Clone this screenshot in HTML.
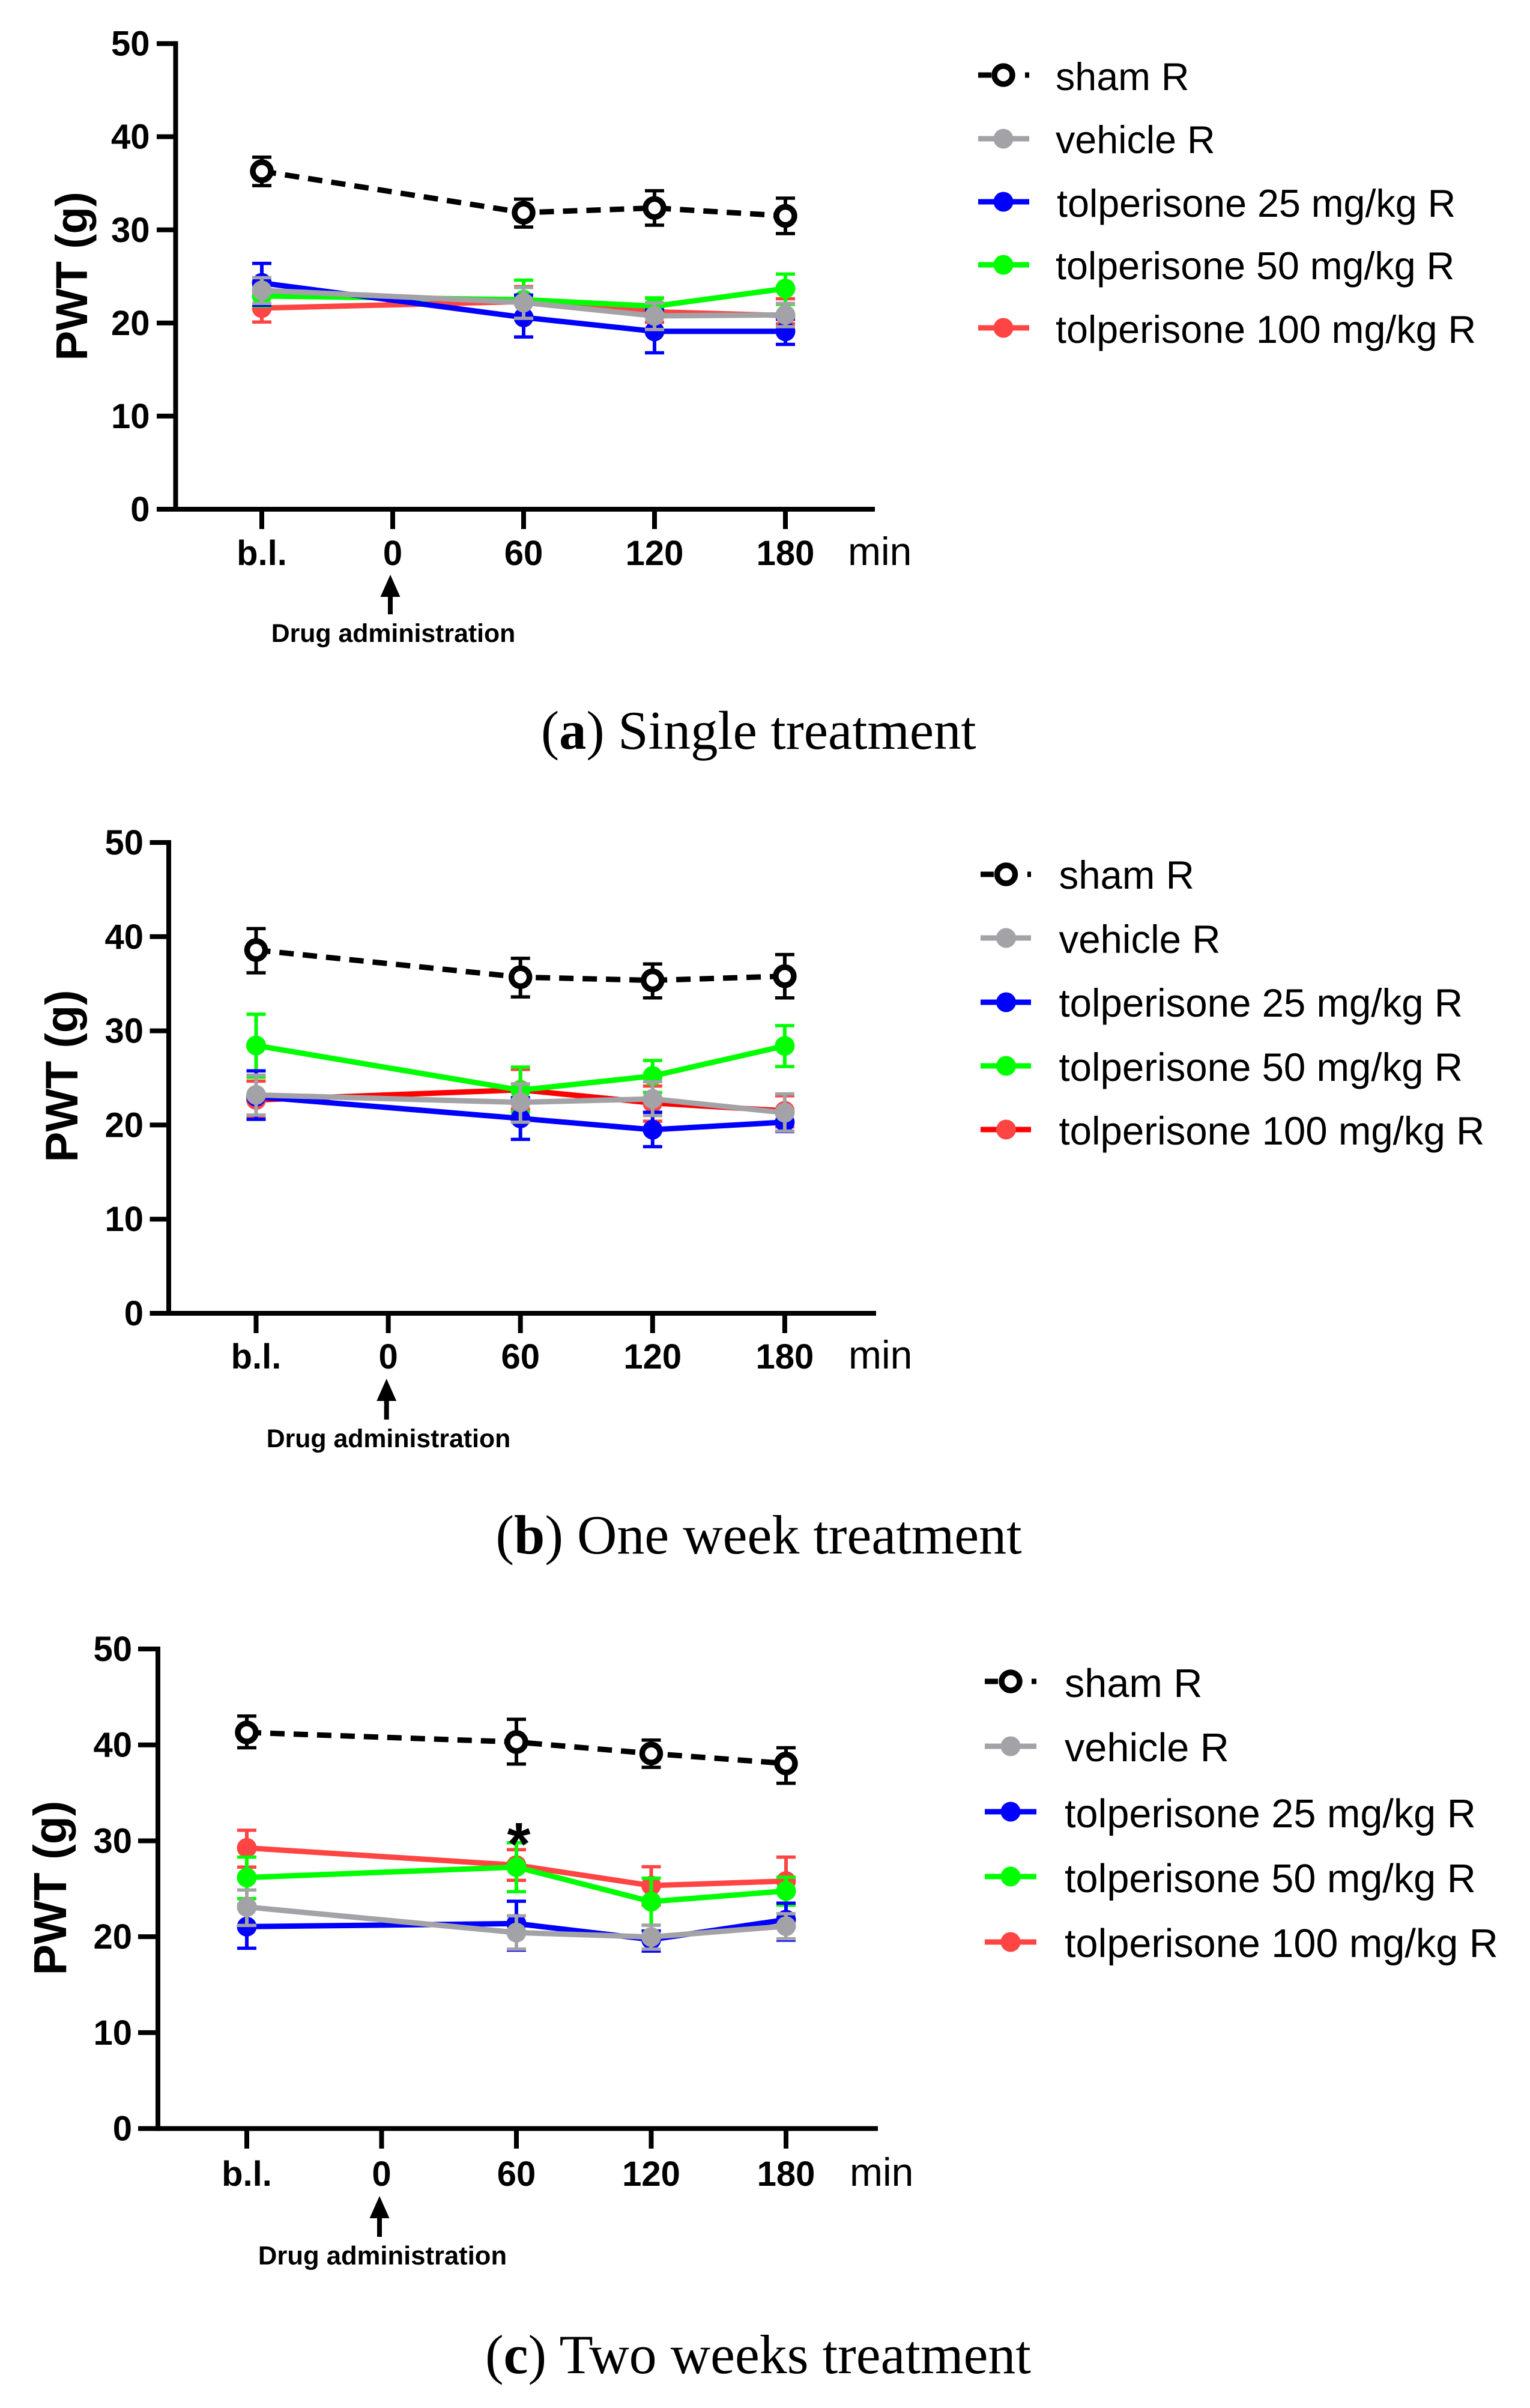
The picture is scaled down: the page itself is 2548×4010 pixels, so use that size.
<!DOCTYPE html>
<html lang="en">
<head>
<meta charset="utf-8">
<title>PWT over time after tolperisone treatment</title>
<style>
html,body{margin:0;padding:0;background:#fff;}
svg{display:block;}
text{fill:#000;font-family:"Liberation Sans",Arial,sans-serif;}
.tick{font-weight:700;font-size:58px;}
.unit{font-size:66px;}
.ylab{font-weight:700;}
.drug{font-weight:700;}
.caption{font-family:"Liberation Serif","Times New Roman",serif;}
.caption tspan.b{font-weight:700;}
</style>
</head>
<body>
<svg id="figure" xmlns="http://www.w3.org/2000/svg" width="2548" height="4010" viewBox="0 0 2548 4010">
<rect x="0" y="0" width="2548" height="4010" fill="#fff"/>

<g id="panel-a">
  <text class="ylab" font-size="74.5" text-anchor="middle" transform="translate(145,460) rotate(-90)">PWT (g)</text>
  <text class="unit" x="1412" y="941">min</text>
  <polygon points="650,957 666.5,994 633.5,994" fill="#000"/>
  <rect x="646" y="990" width="8" height="33" fill="#000"/>
  <text class="drug" font-size="42.8" x="655" y="1069" text-anchor="middle">Drug administration</text>
</g>
<g font-size="64.6">
  <text x="1758" y="150">sham R</text>
  <text x="1758" y="255">vehicle R</text>
  <text x="1760" y="361">tolperisone 25 mg/kg R</text>
  <text x="1758" y="465">tolperisone 50 mg/kg R</text>
  <text x="1758" y="571">tolperisone 100 mg/kg R</text>
</g>
<text class="caption" font-size="90.6" x="901" y="1247">(<tspan class="b">a</tspan>) Single treatment</text>

<g id="panel-b">
  <text class="ylab" font-size="76" text-anchor="middle" transform="translate(129,1792) rotate(-90)">PWT (g)</text>
  <text class="unit" x="1413" y="2279">min</text>
  <polygon points="643.7,2296 660.2,2333 627.2,2333" fill="#000"/>
  <rect x="639.7" y="2329" width="8" height="35" fill="#000"/>
  <text class="drug" font-size="42.8" x="647" y="2410" text-anchor="middle">Drug administration</text>
</g>
<g font-size="65.4">
  <text x="1763.5" y="1480">sham R</text>
  <text x="1763.5" y="1587">vehicle R</text>
  <text x="1763.5" y="1693">tolperisone 25 mg/kg R</text>
  <text x="1763.5" y="1800">tolperisone 50 mg/kg R</text>
  <text x="1763.5" y="1906">tolperisone 100 mg/kg R</text>
</g>
<text class="caption" font-size="92" x="825.5" y="2587">(<tspan class="b">b</tspan>) One week treatment</text>

<g id="panel-c">
  <text class="ylab" font-size="77" text-anchor="middle" transform="translate(110,3144) rotate(-90)">PWT (g)</text>
  <text class="unit" x="1415" y="3640">min</text>
  <polygon points="632,3657 648.5,3694 615.5,3694" fill="#000"/>
  <rect x="628" y="3690" width="8" height="35" fill="#000"/>
  <text class="drug" font-size="43.6" x="637" y="3771" text-anchor="middle">Drug administration</text>
</g>
<g font-size="66.6">
  <text x="1773" y="2826">sham R</text>
  <text x="1773" y="2933">vehicle R</text>
  <text x="1773" y="3043">tolperisone 25 mg/kg R</text>
  <text x="1773" y="3151">tolperisone 50 mg/kg R</text>
  <text x="1773" y="3259">tolperisone 100 mg/kg R</text>
</g>
<text class="caption" font-size="92" x="808" y="3952">(<tspan class="b">c</tspan>) Two weeks treatment</text>
</svg>

<script>
const categories = ['b.l.', '0', '60', '120', '180'];
const yTickValues = [0, 10, 20, 30, 40, 50];

/* Panel a: single treatment */
const aSham = [36.3, null, 31.85, 32.35, 31.5];
const aShamHi = [37.8, null, 33.3, 34.2, 33.4];
const aShamLo = [34.75, null, 30.3, 30.5, 29.6];
const aVehicle = [23.5, null, 22.2, 20.76, 20.87];
const aVehicleHi = [24.87, null, 23.8, 22.15, 22.1];
const aVehicleLo = [22.1, null, 20.5, 19.3, 19.6];
const aT25 = [24.3, null, 20.6, 19.1, 19.1];
const aT25Hi = [26.4, null, 23.0, 21.4, 20.4];
const aT25Lo = [21.9, null, 18.5, 16.8, 17.7];
const aT50 = [22.9, null, 22.5, 21.8, 23.7];
const aT50Hi = [24.05, null, 24.6, 22.7, 25.25];
const aT50Lo = [21.8, null, 20.4, 20.9, 22.0];
const aT100 = [21.6, null, 22.3, 21.2, 20.8];
const aT100Hi = [23.1, null, 23.9, 22.66, 22.6];
const aT100Lo = [20.1, null, 20.7, 20.07, 19.9];

/* Panel b: one week treatment */
const bSham = [38.58, null, 35.7, 35.36, 35.8];
const bShamHi = [40.86, null, 37.7, 37.1, 38.1];
const bShamLo = [36.16, null, 33.6, 33.5, 33.5];
const bVehicle = [23.19, null, 22.4, 22.77, 21.3];
const bVehicleHi = [25.3, null, 24.36, 24.6, 23.3];
const bVehicleLo = [21.05, null, 20.3, 21.0, 19.35];
const bT25 = [23.0, null, 20.7, 19.5, 20.3];
const bT25Hi = [25.75, null, 22.9, 21.35, 21.3];
const bT25Lo = [20.6, null, 18.47, 17.7, 19.3];
const bT50 = [28.44, null, 23.7, 25.2, 28.4];
const bT50Hi = [31.76, null, 26.15, 26.85, 30.55];
const bT50Lo = [25.08, null, 21.4, 23.45, 26.2];
const bT100 = [22.66, null, 23.73, 22.34, 21.5];
const bT100Hi = [24.66, null, 25.9, 24.13, 23.1];
const bT100Lo = [20.76, null, 21.7, 20.4, 19.8];

/* Panel c: two weeks treatment */
const cSham = [41.3, null, 40.3, 39.1, 38.06];
const cShamHi = [43.0, null, 42.67, 40.5, 39.7];
const cShamLo = [39.7, null, 38.0, 37.66, 36.0];
const cVehicle = [23.1, null, 20.43, 19.97, 21.1];
const cVehicleHi = [24.87, null, 22.18, 21.2, 22.4];
const cVehicleLo = [21.18, null, 18.7, 18.7, 19.78];
const cT25 = [21.05, null, 21.37, 19.7, 21.78];
const cT25Hi = [23.3, null, 23.7, 20.6, 23.5];
const cT25Lo = [18.8, null, 18.6, 18.5, 19.64];
const cT50 = [26.17, null, 27.26, 23.66, 24.77];
const cT50Hi = [28.3, null, 29.8, 26.1, 26.2];
const cT50Lo = [23.97, null, 24.7, 21.2, 23.3];
const cT100 = [29.26, null, 27.46, 25.33, 25.8];
const cT100Hi = [31.1, null, 29.07, 27.3, 28.3];
const cT100Lo = [27.26, null, 25.88, 23.3, 23.3];

const NS = 'http://www.w3.org/2000/svg';
const GREY = '#a3a2a6', BLUE = '#0000ff', GREEN = '#00ff00', SOFTRED = '#ff4444';

function svgEl(parent, tag, attrs) {
  const el = document.createElementNS(NS, tag);
  for (const k in attrs) el.setAttribute(k, attrs[k]);
  parent.appendChild(el);
  return el;
}

function drawAxes(group, p, x, y, id) {
  const axisColor = '#000';
  const yAxis = svgEl(group, 'line', {x1: p.axisX, x2: p.axisX, y1: y(50) - 4, y2: y(0) + 4, stroke: axisColor, 'stroke-width': 8});
  
  
  const xAxis = svgEl(group, 'line', {x1: p.axisX, x2: p.axisRight, y1: y(0), y2: y(0), stroke: axisColor, 'stroke-width': 8});
  
  
  yTickValues.forEach(function (v) {
    const t = svgEl(group, 'line', {x1: p.tickLeft, x2: p.axisX, y1: y(v), y2: y(v), stroke: axisColor, 'stroke-width': 8});
    
    
    const l = svgEl(group, 'text', {x: p.labelRight, y: y(v) + 20, 'text-anchor': 'end', 'class': 'tick'});
    
    
    l.textContent = v;
  });
  categories.forEach(function (c, i) {
    const t = svgEl(group, 'line', {x1: x(i), x2: x(i), y1: y(0), y2: p.tickBottom, stroke: axisColor, 'stroke-width': 8});
    
    
    const l = svgEl(group, 'text', {x: x(i), y: p.labelBaseline, 'text-anchor': 'middle', 'class': 'tick'});
    
    
    l.textContent = c;
  });
}

function drawSeries(group, s, x, y, id) {
  const g = svgEl(group, 'g', {});
  
  
  const pts = [];
  s.mean.forEach(function (m, i) { if (m !== null) pts.push(x(i) + ',' + y(m)); });
  const lineAttrs = {points: pts.join(' '), fill: 'none', stroke: s.lineColor, 'stroke-width': 9};
  if (s.hollow) lineAttrs['stroke-dasharray'] = '24 15';
  const line = svgEl(g, 'polyline', lineAttrs);
  
  
  s.mean.forEach(function (m, i) {
    if (m === null) return;
    const stem = svgEl(g, 'line', {x1: x(i), x2: x(i), y1: y(s.hi[i]), y2: y(s.lo[i]), stroke: s.color, 'stroke-width': 6});
    
    
    [s.hi[i], s.lo[i]].forEach(function (v) {
      const cap = svgEl(g, 'line', {x1: x(i) - 16, x2: x(i) + 16, y1: y(v), y2: y(v), stroke: s.color, 'stroke-width': 5.5});
      
      
    });
    const dot = svgEl(g, 'circle', s.hollow
      ? {cx: x(i), cy: y(m), r: 15, fill: '#fff', stroke: s.color, 'stroke-width': 9.5}
      : {cx: x(i), cy: y(m), r: 16.5, fill: s.color});
    
    
  });
}

function drawLegendKey(svg, k, id) {
  const g = svgEl(svg, 'g', {});
  
  
  const attrs = {x1: k.x1, x2: k.x2, y1: k.y, y2: k.y, stroke: k.lineColor, 'stroke-width': 9};
  if (k.hollow) attrs['stroke-dasharray'] = '22 17';
  svgEl(g, 'line', attrs);
  svgEl(g, 'circle', k.hollow
    ? {cx: k.cx, cy: k.y, r: 15, fill: '#fff', stroke: k.color, 'stroke-width': 9.5}
    : {cx: k.cx, cy: k.y, r: 16.5, fill: k.color});
}

const panels = [
  {id: 'a', x0: 436, dx: 218, yZero: 848, yTop: 72.6, axisX: 292.5, axisRight: 1457, tickLeft: 261, tickBottom: 881, labelRight: 249.5, labelBaseline: 941, redLine: SOFTRED,
   legend: {x1: 1629, x2: 1714, cx: 1671, ys: [125, 231, 336, 441, 546]},
   data: {sham: [aSham, aShamHi, aShamLo], vehicle: [aVehicle, aVehicleHi, aVehicleLo], t25: [aT25, aT25Hi, aT25Lo], t50: [aT50, aT50Hi, aT50Lo], t100: [aT100, aT100Hi, aT100Lo]}},
  {id: 'b', x0: 426.5, dx: 220.1, yZero: 2187, yTop: 1403, axisX: 281, axisRight: 1459, tickLeft: 249.5, tickBottom: 2220, labelRight: 239, labelBaseline: 2279, redLine: '#ff0000',
   legend: {x1: 1633, x2: 1717, cx: 1675.5, ys: [1456, 1562, 1669, 1775, 1881]},
   data: {sham: [bSham, bShamHi, bShamLo], vehicle: [bVehicle, bVehicleHi, bVehicleLo], t25: [bT25, bT25Hi, bT25Lo], t50: [bT50, bT50Hi, bT50Lo], t100: [bT100, bT100Hi, bT100Lo]}},
  {id: 'c', x0: 411, dx: 224.5, yZero: 3544.6, yTop: 2746, axisX: 263, axisRight: 1462, tickLeft: 230, tickBottom: 3578, labelRight: 220, labelBaseline: 3640, redLine: SOFTRED,
   legend: {x1: 1640, x2: 1726, cx: 1683, ys: [2800, 2908, 3017, 3125, 3234]},
   data: {sham: [cSham, cShamHi, cShamLo], vehicle: [cVehicle, cVehicleHi, cVehicleLo], t25: [cT25, cT25Hi, cT25Lo], t50: [cT50, cT50Hi, cT50Lo], t100: [cT100, cT100Hi, cT100Lo]}}
];

const svgRoot = document.getElementById('figure');

panels.forEach(function (p) {
  const group = document.getElementById('panel-' + p.id);
  const x = function (i) { return p.x0 + i * p.dx; };
  const y = function (v) { return p.yZero - v * (p.yZero - p.yTop) / 50; };
  drawAxes(group, p, x, y, p.id);
  const order = [
    {key: 'tolperisone-100', d: p.data.t100, color: SOFTRED, lineColor: p.redLine},
    {key: 'tolperisone-50', d: p.data.t50, color: GREEN, lineColor: GREEN},
    {key: 'tolperisone-25', d: p.data.t25, color: BLUE, lineColor: BLUE},
    {key: 'vehicle', d: p.data.vehicle, color: GREY, lineColor: GREY},
    {key: 'sham', d: p.data.sham, color: '#000', lineColor: '#000', hollow: true}
  ];
  order.forEach(function (o) {
    drawSeries(group, {key: o.key, mean: o.d[0], hi: o.d[1], lo: o.d[2], color: o.color, lineColor: o.lineColor, hollow: o.hollow}, x, y, p.id);
  });
  const legendRows = [order[4], order[3], order[2], order[1], order[0]];
  legendRows.forEach(function (o, i) {
    drawLegendKey(svgRoot, {key: o.key, x1: p.legend.x1, x2: p.legend.x2, cx: p.legend.cx, y: p.legend.ys[i], color: o.color, lineColor: o.lineColor, hollow: o.hollow}, p.id);
  });
  if (p.id === 'c') {
    const star = svgEl(group, 'text', {x: x(2) + 4, y: 3105, 'text-anchor': 'middle', 'font-size': 100, 'font-weight': 700});
    
    
    star.textContent = '*';
  }
});
</script>
</body>
</html>
